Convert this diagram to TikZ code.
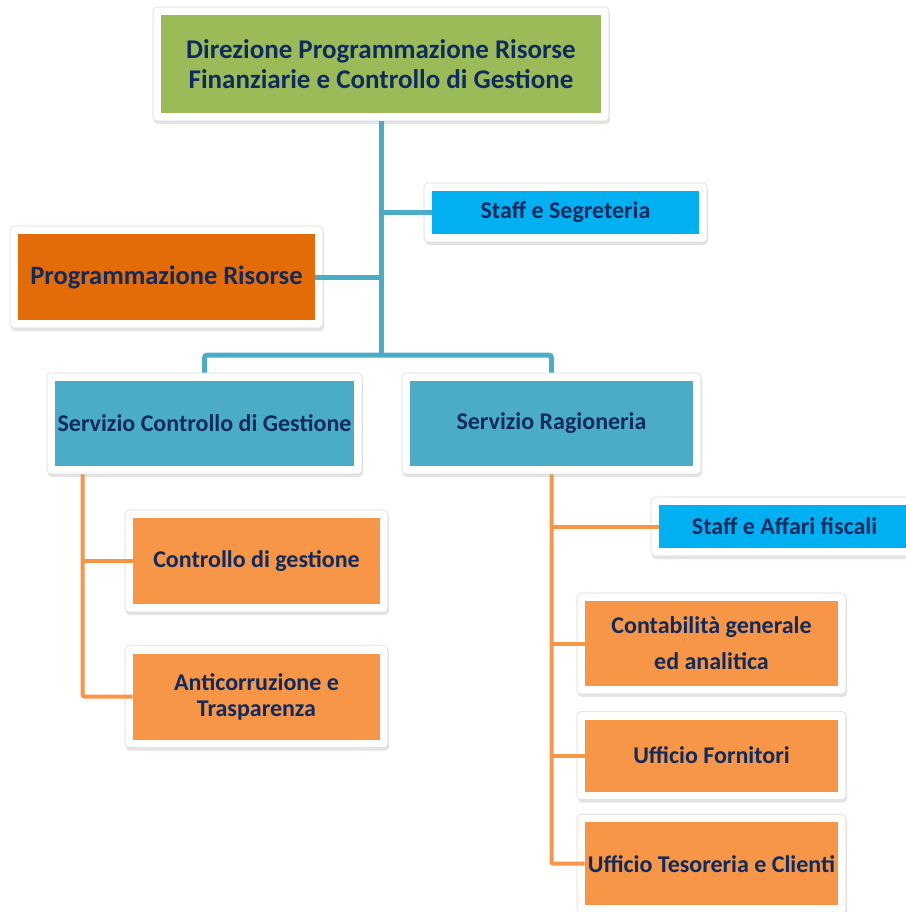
\documentclass[tikz,border=0pt]{standalone}
\usepackage{fontspec}
\setmainfont{Carlito}
\usepackage{tikz}
\usetikzlibrary{positioning, shadows}
\definecolor{navytext}{HTML}{0F2A5E}
\definecolor{leafgreen}{HTML}{9BBB59}
\definecolor{skyblue}{HTML}{00B0F0}
\definecolor{burntorange}{HTML}{E36C09}
\definecolor{seateal}{HTML}{4BACC6}
\definecolor{softorange}{HTML}{F79646}
\definecolor{framegray}{HTML}{DADADA}

\begin{document}
\begin{tikzpicture}[
    x=1pt, y=1pt,
    unit/.style={rectangle, rounded corners=4pt, draw=framegray, line width=0.6pt,
                fill=white, inner sep=0pt, align=center, text=navytext,
                font=\fontsize{24}{29}\selectfont\bfseries,
                drop shadow={opacity=0.22, shadow xshift=1pt, shadow yshift=-3pt},
                path picture={\fill[#1, sharp corners]
                  ([shift={(8pt,8pt)}]path picture bounding box.south west) rectangle
                  ([shift={(-8pt,-8pt)}]path picture bounding box.north east);}},
    tlink/.style={seateal, line width=5pt},
    olink/.style={softorange, line width=4pt}
  ]
  \useasboundingbox (0,0) rectangle (905,-912);

  % Direzione and its staff
  \node[unit=leafgreen, minimum width=456pt, minimum height=114pt,
        font=\fontsize{27}{30}\selectfont\bfseries] (dir) at (381,-64)
        {Direzione Programmazione Risorse\\Finanziarie e Controllo di Gestione};
  \node[unit=skyblue, minimum width=283pt, minimum height=59pt] (segr) at (565.5,-212.5) {Staff e Segreteria};
  \node[unit=burntorange, minimum width=313pt, minimum height=102pt,
        font=\fontsize{26.5}{30}\selectfont\bfseries] (progr) at (166.5,-277) {Programmazione Risorse};

  % Servizi
  \node[unit=seateal, minimum width=315pt, minimum height=101pt] (scg) at (204.5,-423.5) {Servizio Controllo di Gestione};
  \node[unit=seateal, minimum width=299pt, minimum height=101pt] (rag) at (551.5,-423.5) {Servizio Ragioneria};

  % Uffici del Controllo di Gestione
  \node[unit=softorange, minimum width=263pt, minimum height=102pt] (cdg) at (256.5,-561) {Controllo di gestione};
  \node[unit=softorange, minimum width=263pt, minimum height=102pt,
        font=\fontsize{24}{26}\selectfont\bfseries] (anti) [below=33pt of cdg] {Anticorruzione e\\Trasparenza};

  % Uffici della Ragioneria
  \node[unit=skyblue, minimum width=267pt, minimum height=59pt] (saf) at (784.5,-526.5) {Staff e Affari fiscali};
  \node[unit=softorange, minimum width=269pt, minimum height=101pt,
        font=\fontsize{24}{36}\selectfont\bfseries] (contab) at (711.5,-643.5) {Contabilità generale\\ed analitica};
  \node[unit=softorange, minimum width=269pt, minimum height=88pt] (forn) [below=17pt of contab] {Ufficio Fornitori};
  \node[unit=softorange, minimum width=269pt, minimum height=99pt] (tes) [below=14pt of forn] {Ufficio Tesoreria e Clienti};

  % Connections
  \coordinate (hub) at (381,-355);
  \draw[tlink] (dir.south) -- (hub);
  \draw[tlink] (dir.south |- segr.west) -- ([xshift=8pt]segr.west);
  \draw[tlink] (dir.south |- progr.east) -- ([xshift=-8pt]progr.east);
  \draw[tlink, rounded corners=3pt] (scg.north) |- (hub) -| (rag.north);

  \coordinate (lspine) at ([xshift=36pt]scg.south west);
  \draw[olink, rounded corners=2pt] (lspine) |- ([xshift=8pt]anti.west);
  \draw[olink] (lspine |- cdg.west) -- ([xshift=8pt]cdg.west);

  \draw[olink, rounded corners=2pt] (rag.south) |- ([xshift=8pt]tes.west);
  \draw[olink] (rag.south |- saf.west) -- ([xshift=8pt]saf.west);
  \draw[olink] (rag.south |- contab.west) -- ([xshift=8pt]contab.west);
  \draw[olink] (rag.south |- forn.west) -- ([xshift=8pt]forn.west);
\end{tikzpicture}
\end{document}
